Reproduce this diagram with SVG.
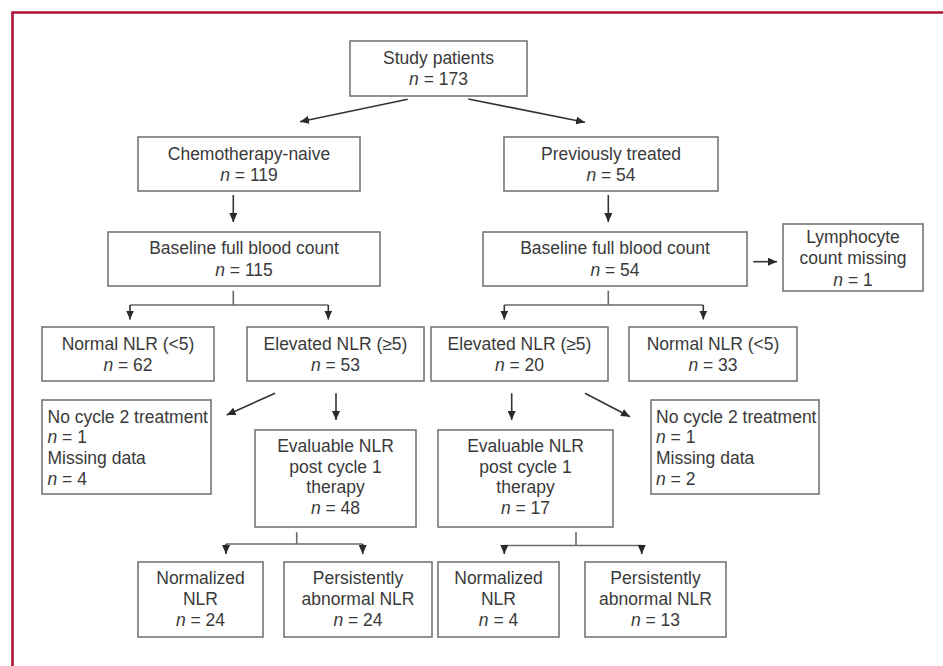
<svg xmlns="http://www.w3.org/2000/svg" width="943" height="666" viewBox="0 0 943 666">
<style>
.box{fill:#fff;stroke:#767676;stroke-width:1.6}
.t{font-family:"Liberation Sans",Arial,sans-serif;font-size:17.5px;fill:#3a3a3a}
.c{text-anchor:middle}
.i{font-style:italic}
.ln{fill:none;stroke:#333;stroke-width:1.6}
.tl{fill:none;stroke:#6a6a6a;stroke-width:1.6}
</style>
<defs>
<marker id="ah" markerUnits="userSpaceOnUse" markerWidth="9" markerHeight="8" refX="9" refY="4" orient="auto">
<path d="M0,0 L9,4 L0,8 z" fill="#2a2a2a"/>
</marker>
</defs>
<rect x="0" y="0" width="943" height="666" fill="#fff"/>
<path d="M12.5,666 V12.5 H943" fill="none" stroke="#ad1238" stroke-width="2.6"/>

<g id="connectors">
<line class="ln" x1="407.7" y1="99.3" x2="300" y2="121.7" marker-end="url(#ah)"/>
<line class="ln" x1="468.3" y1="99" x2="585" y2="122.3" marker-end="url(#ah)"/>
<line class="ln" x1="233.3" y1="195" x2="233.3" y2="222" marker-end="url(#ah)"/>
<line class="ln" x1="608.3" y1="195" x2="608.3" y2="222" marker-end="url(#ah)"/>
<path class="tl" d="M233.3,290.7 V305 M130,305 H328.3"/>
<line class="ln" x1="130" y1="305" x2="130" y2="319.5" marker-end="url(#ah)"/>
<line class="ln" x1="328.3" y1="305" x2="328.3" y2="319.5" marker-end="url(#ah)"/>
<path class="tl" d="M608.3,290.7 V305 M504.3,305 H703.3"/>
<line class="ln" x1="504.3" y1="305" x2="504.3" y2="319.5" marker-end="url(#ah)"/>
<line class="ln" x1="703.3" y1="305" x2="703.3" y2="319.5" marker-end="url(#ah)"/>
<line class="ln" x1="753.3" y1="261.7" x2="777" y2="261.7" marker-end="url(#ah)"/>
<line class="ln" x1="275" y1="393.3" x2="226.7" y2="415" marker-end="url(#ah)"/>
<line class="ln" x1="336" y1="393.3" x2="336" y2="420" marker-end="url(#ah)"/>
<line class="ln" x1="511.7" y1="393.3" x2="511.7" y2="420" marker-end="url(#ah)"/>
<line class="ln" x1="585" y1="393.3" x2="630" y2="416.7" marker-end="url(#ah)"/>
<path class="tl" d="M296.7,532.3 V544 M226,544 H362.7"/>
<line class="ln" x1="226" y1="544" x2="226" y2="554" marker-end="url(#ah)"/>
<line class="ln" x1="362.7" y1="544" x2="362.7" y2="554" marker-end="url(#ah)"/>
<path class="tl" d="M576,532.3 V545.5 M504.3,545.5 H641.7"/>
<line class="ln" x1="504.3" y1="545.5" x2="504.3" y2="554" marker-end="url(#ah)"/>
<line class="ln" x1="641.7" y1="545.5" x2="641.7" y2="554" marker-end="url(#ah)"/>
</g>

<g id="study">
<rect class="box" x="350" y="41" width="177" height="55"/>
<text class="t c" x="438.5" y="64">Study patients</text>
<text class="t c" x="438.5" y="85"><tspan class="i">n</tspan> = 173</text>
</g>
<g id="chemo">
<rect class="box" x="138" y="137" width="222" height="54"/>
<text class="t c" x="249" y="159.5">Chemotherapy-naive</text>
<text class="t c" x="249" y="180.7"><tspan class="i">n</tspan> = 119</text>
</g>
<g id="prev">
<rect class="box" x="504" y="137" width="214" height="54"/>
<text class="t c" x="611" y="159.5">Previously treated</text>
<text class="t c" x="611" y="180.7"><tspan class="i">n</tspan> = 54</text>
</g>
<g id="baseline1">
<rect class="box" x="108" y="232" width="272" height="54"/>
<text class="t c" x="244" y="254">Baseline full blood count</text>
<text class="t c" x="244" y="275.5"><tspan class="i">n</tspan> = 115</text>
</g>
<g id="baseline2">
<rect class="box" x="483" y="232" width="264" height="54"/>
<text class="t c" x="615" y="254">Baseline full blood count</text>
<text class="t c" x="615" y="275.5"><tspan class="i">n</tspan> = 54</text>
</g>
<g id="lymph">
<rect class="box" x="783" y="224" width="140" height="67"/>
<text class="t c" x="853" y="242.7">Lymphocyte</text>
<text class="t c" x="853" y="264">count missing</text>
<text class="t c" x="853" y="285.5"><tspan class="i">n</tspan> = 1</text>
</g>
<g id="normal1">
<rect class="box" x="42" y="327" width="172" height="54"/>
<text class="t c" x="128" y="350">Normal NLR (&lt;5)</text>
<text class="t c" x="128" y="371"><tspan class="i">n</tspan> = 62</text>
</g>
<g id="elev1">
<rect class="box" x="247" y="327" width="177" height="54"/>
<text class="t c" x="335.5" y="350">Elevated NLR (≥5)</text>
<text class="t c" x="335.5" y="371"><tspan class="i">n</tspan> = 53</text>
</g>
<g id="elev2">
<rect class="box" x="431" y="327" width="177" height="54"/>
<text class="t c" x="519.5" y="350">Elevated NLR (≥5)</text>
<text class="t c" x="519.5" y="371"><tspan class="i">n</tspan> = 20</text>
</g>
<g id="normal2">
<rect class="box" x="629" y="327" width="168" height="54"/>
<text class="t c" x="713" y="350">Normal NLR (&lt;5)</text>
<text class="t c" x="713" y="371"><tspan class="i">n</tspan> = 33</text>
</g>
<g id="nocycle1">
<rect class="box" x="42" y="400" width="169" height="94"/>
<text class="t" x="47.5" y="422.7">No cycle 2 treatment</text>
<text class="t" x="47.5" y="443.3"><tspan class="i">n</tspan> = 1</text>
<text class="t" x="47.5" y="464.3">Missing data</text>
<text class="t" x="47.5" y="485"><tspan class="i">n</tspan> = 4</text>
</g>
<g id="nocycle2">
<rect class="box" x="651" y="400" width="168" height="94"/>
<text class="t" x="656" y="422.7">No cycle 2 treatment</text>
<text class="t" x="656" y="443.3"><tspan class="i">n</tspan> = 1</text>
<text class="t" x="656" y="464.3">Missing data</text>
<text class="t" x="656" y="485"><tspan class="i">n</tspan> = 2</text>
</g>
<g id="eval1">
<rect class="box" x="255" y="430" width="161" height="97"/>
<text class="t c" x="335.5" y="451.7">Evaluable NLR</text>
<text class="t c" x="335.5" y="472.7">post cycle 1</text>
<text class="t c" x="335.5" y="493.3">therapy</text>
<text class="t c" x="335.5" y="514.3"><tspan class="i">n</tspan> = 48</text>
</g>
<g id="eval2">
<rect class="box" x="438" y="430" width="175" height="97"/>
<text class="t c" x="525.5" y="451.7">Evaluable NLR</text>
<text class="t c" x="525.5" y="472.7">post cycle 1</text>
<text class="t c" x="525.5" y="493.3">therapy</text>
<text class="t c" x="525.5" y="514.3"><tspan class="i">n</tspan> = 17</text>
</g>
<g id="norm1">
<rect class="box" x="138" y="562" width="125" height="75"/>
<text class="t c" x="200.5" y="584">Normalized</text>
<text class="t c" x="200.5" y="604.5">NLR</text>
<text class="t c" x="200.5" y="625.7"><tspan class="i">n</tspan> = 24</text>
</g>
<g id="pers1">
<rect class="box" x="284" y="562" width="148" height="75"/>
<text class="t c" x="358" y="584">Persistently</text>
<text class="t c" x="358" y="604.5">abnormal NLR</text>
<text class="t c" x="358" y="625.7"><tspan class="i">n</tspan> = 24</text>
</g>
<g id="norm2">
<rect class="box" x="438" y="562" width="121" height="75"/>
<text class="t c" x="498.5" y="584">Normalized</text>
<text class="t c" x="498.5" y="604.5">NLR</text>
<text class="t c" x="498.5" y="625.7"><tspan class="i">n</tspan> = 4</text>
</g>
<g id="pers2">
<rect class="box" x="585" y="562" width="141" height="75"/>
<text class="t c" x="655.5" y="584">Persistently</text>
<text class="t c" x="655.5" y="604.5">abnormal NLR</text>
<text class="t c" x="655.5" y="625.7"><tspan class="i">n</tspan> = 13</text>
</g>
</svg>
